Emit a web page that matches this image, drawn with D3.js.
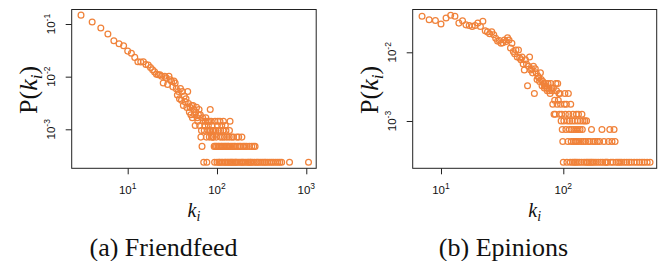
<!DOCTYPE html>
<html><head><meta charset="utf-8">
<script src="https://cdn.jsdelivr.net/npm/d3@7"></script>
<style>body{margin:0;background:#fff}svg{display:block}</style>
</head><body>
<svg id="c" width="663" height="261"></svg>
<script>
// ---- Friendfeed degree distribution: [degree k, number of nodes with degree k] ----
const friendfeed = [[3,622],[4,459],[5,353],[6,272],[7,203],[8,178],[9,163],[10,129],[11,117],[12,98],[13,81],[14,80],[15,81],[16,72],[17,70],[18,63],[19,57],[20,52],[21,47],[22,46],[23,46],[24,43],[25,32],[26,43],[27,40],[28,30],[29,43],[30,37],[31,34],[32,27],[33,35],[34,32],[35,25],[36,19],[37,22],[38,16],[39,25],[40,15],[41,22],[42,12],[43,18],[44,14],[45,16],[46,11],[47,22],[48,13],[49,9],[50,11],[51,8],[52,12],[53,7],[54,12],[55,10],[56,8],[57,5],[58,9],[59,11],[60,7],[61,6],[62,8],[63,10],[64,5],[65,8],[66,3],[67,4],[68,2],[69,7],[70,6],[71,1],[72,4],[73,5],[74,6],[75,7],[76,3],[77,1],[78,6],[79,4],[80,5],[81,6],[82,3],[83,4],[84,10],[85,4],[86,6],[87,3],[88,5],[89,4],[90,3],[91,3],[92,4],[93,2],[94,1],[95,6],[96,2],[97,4],[98,3],[99,2],[100,1],[101,5],[102,6],[103,2],[104,4],[105,1],[106,2],[107,1],[108,6],[109,3],[110,4],[111,2],[112,1],[113,5],[114,2],[115,3],[116,1],[117,4],[118,6],[119,2],[121,3],[122,1],[123,2],[124,5],[125,1],[126,4],[127,2],[129,3],[130,1],[132,2],[134,1],[135,2],[137,3],[138,4],[139,1],[140,6],[142,2],[143,1],[146,3],[147,1],[148,2],[151,1],[153,3],[155,2],[157,1],[160,2],[162,1],[165,1],[167,3],[170,2],[172,1],[175,3],[178,2],[180,1],[185,2],[188,1],[190,3],[193,1],[196,2],[200,1],[205,2],[210,1],[215,2],[220,1],[226,1],[230,2],[235,1],[240,1],[245,2],[250,1],[258,2],[262,1],[267,2],[275,1],[283,1],[295,1],[310,1],[325,1],[340,1],[352,1],[370,1],[390,1],[410,1],[430,1],[455,1],[480,1],[505,1],[530,1],[649,1],[1059,1]];
const nodesFF = 4220;

// ---- Epinions degree distribution: [degree k, number of nodes with degree k] ----
const epinions = [[7,133],[8,119],[9,116],[10,103],[11,126],[12,138],[13,133],[14,106],[15,115],[16,100],[17,98],[18,95],[19,98],[20,106],[21,95],[22,113],[23,82],[24,79],[25,74],[26,79],[27,72],[28,64],[29,58],[30,59],[31,54],[32,55],[33,60],[34,57],[35,65],[36,60],[37,46],[38,54],[39,41],[40,38],[41,43],[42,34],[43,43],[44,33],[45,31],[46,34],[47,27],[48,22],[49,31],[50,27],[51,13],[52,25],[53,34],[54,22],[55,23],[56,20],[57,25],[58,10],[59,23],[60,20],[61,16],[62,18],[63,17],[64,15],[65,20],[66,16],[67,13],[68,15],[69,14],[70,12],[71,13],[72,14],[73,12],[74,11],[75,14],[76,12],[77,11],[78,10],[79,14],[80,12],[81,11],[82,7],[83,12],[84,5],[85,8],[86,5],[87,14],[88,11],[89,7],[90,14],[91,8],[92,10],[93,5],[94,10],[95,7],[96,4],[97,5],[98,3],[99,2],[100,1],[101,4],[102,7],[103,10],[104,5],[105,3],[106,7],[107,1],[108,4],[109,2],[110,10],[111,5],[112,3],[113,4],[114,1],[115,7],[116,2],[117,3],[118,4],[119,1],[120,5],[121,2],[122,3],[123,1],[124,4],[125,2],[126,1],[127,3],[128,5],[129,2],[130,1],[131,4],[132,3],[133,5],[134,2],[135,1],[137,3],[138,4],[140,2],[141,1],[142,5],[143,3],[145,4],[146,2],[148,1],[150,4],[152,2],[154,1],[155,4],[158,1],[160,2],[163,1],[165,2],[168,1],[170,3],[172,1],[175,2],[178,1],[182,2],[185,1],[190,2],[193,1],[198,2],[202,1],[207,3],[210,1],[215,2],[220,1],[225,1],[230,1],[234,2],[240,3],[245,1],[250,2],[255,1],[260,3],[265,2],[270,1],[280,1],[290,1],[300,1],[315,1],[330,1],[345,1],[360,1],[380,1],[400,1],[420,1],[440,1],[460,1],[485,1],[512,1]];
const nodesEP = 3985;

// ---- axis ticks and labels ----
const xTicksFF = [10, 100, 1000], xTickExpFF = ["1", "2", "3"];
const yTicksFF = [0.1, 0.01, 0.001], yTickExpFF = ["-1", "-2", "-3"];
const xTicksEP = [10, 100], xTickExpEP = ["1", "2"];
const yTicksEP = [0.01, 0.001], yTickExpEP = ["-2", "-3"];
const captions = ["(a) Friendfeed", "(b) Epinions"];

const svg = d3.select("#c");
const ORANGE = "#f0823a";
const SANS = "'Liberation Sans', Arial, Helvetica, sans-serif";
const SERIF = "'Liberation Serif', 'Times New Roman', Times, serif";

function panel(cfg) {
  const x = d3.scaleLog().domain(cfg.xDomain).range([cfg.x0, cfg.x1]);
  const y = d3.scaleLog().domain(cfg.yDomain).range([cfg.y1, cfg.y0]);
  const g = svg.append("g");

  const pts = cfg.data.map(d => ({k: d[0], p: d[1] / cfg.n}));
  g.append("g").selectAll("circle").data(pts).join("circle")
    .attr("cx", d => x(d.k)).attr("cy", d => y(d.p)).attr("r", 2.9)
    .attr("fill", "none").attr("stroke", ORANGE).attr("stroke-width", 1.25);

  g.append("rect").attr("x", cfg.x0).attr("y", cfg.y0)
    .attr("width", cfg.x1 - cfg.x0).attr("height", cfg.y1 - cfg.y0)
    .attr("fill", "none").attr("stroke", "#222").attr("stroke-width", 1);

  const xa = g.append("g").attr("transform", `translate(0,${cfg.y1})`)
    .call(d3.axisBottom(x).tickValues(cfg.xTicks).tickSize(6).tickFormat(""));
  xa.select(".domain").remove();
  xa.selectAll("line").attr("stroke", "#222");

  const ya = g.append("g").attr("transform", `translate(${cfg.x0},0)`)
    .call(d3.axisLeft(y).tickValues(cfg.yTicks).tickSize(6).tickFormat(""));
  ya.select(".domain").remove();
  ya.selectAll("line").attr("stroke", "#222");

  cfg.xTicks.forEach((v, i) => {
    const t = g.append("text").attr("x", x(v)).attr("y", cfg.y1 + 26)
      .attr("text-anchor", "middle").attr("font-family", SANS).attr("font-size", 11.5).attr("fill", "#111");
    t.append("tspan").text("10");
    t.append("tspan").attr("dy", -5).attr("font-size", 8.5).text(cfg.xExp[i]);
  });
  cfg.yTicks.forEach((v, i) => {
    const t = g.append("text").attr("transform", `translate(${cfg.x0 - 16.5},${y(v)}) rotate(-90)`)
      .attr("text-anchor", "middle").attr("font-family", SANS).attr("font-size", 11.5).attr("fill", "#111");
    t.append("tspan").text("10");
    t.append("tspan").attr("dy", -5).attr("font-size", 8.5).text(cfg.yExp[i]);
  });

  const yt = g.append("text").attr("transform", `translate(${cfg.x0 - 35},${(cfg.y0 + cfg.y1) / 2 + 1}) rotate(-90)`)
    .attr("text-anchor", "middle").attr("font-family", SERIF).attr("font-size", 26).attr("fill", "#111");
  yt.append("tspan").text("P(");
  yt.append("tspan").attr("font-style", "italic").text("k");
  yt.append("tspan").attr("font-style", "italic").attr("font-size", 17).attr("dy", 5).text("i");
  yt.append("tspan").attr("dy", -5).text(")");

  const xt = g.append("text").attr("x", (cfg.x0 + cfg.x1) / 2).attr("y", 217)
    .attr("text-anchor", "middle").attr("font-family", SERIF).attr("font-size", 20).attr("fill", "#111");
  xt.append("tspan").attr("font-style", "italic").text("k");
  xt.append("tspan").attr("font-style", "italic").attr("font-size", 14).attr("dy", 4).text("i");

  svg.append("text").attr("x", cfg.capX).attr("y", 256).attr("text-anchor", "middle")
    .attr("font-family", SERIF).attr("font-size", 26).attr("fill", "#111").text(cfg.caption);
}

panel({data: friendfeed, n: nodesFF,
  xDomain: [2.36, 1291], yDomain: [1.817e-4, 0.1886],
  x0: 71.7, x1: 316.2, y0: 9.5, y1: 168.3,
  xTicks: xTicksFF, xExp: xTickExpFF, yTicks: yTicksFF, yExp: yTickExpFF,
  caption: captions[0], capX: 163.5});

panel({data: epinions, n: nodesEP,
  xDomain: [5.87, 580.2], yDomain: [2.048e-4, 0.04198],
  x0: 412.7, x1: 656.7, y0: 9.5, y1: 168.3,
  xTicks: xTicksEP, xExp: xTickExpEP, yTicks: yTicksEP, yExp: yTickExpEP,
  caption: captions[1], capX: 503.5});
</script>
</body></html>
